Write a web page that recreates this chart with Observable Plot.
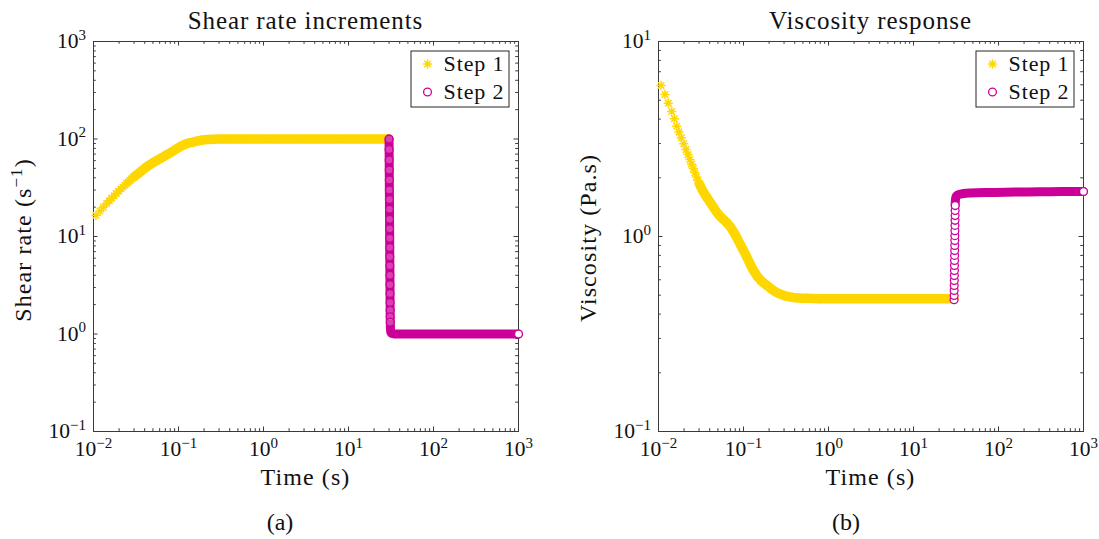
<!DOCTYPE html>
<html><head><meta charset="utf-8">
<script src="https://cdn.jsdelivr.net/npm/d3@7"></script>
<script src="https://cdn.jsdelivr.net/npm/@observablehq/plot@0.6"></script>
<style>
html,body{margin:0;padding:0;background:#fff;}
#fig{position:relative;width:1099px;height:539px;overflow:hidden;background:#fff;}
#fig > svg{position:absolute;top:0;}
</style></head><body><div id="fig"></div>
<script>
// ---------- data ----------
const step1Time = [0.0107, 0.01192, 0.01304, 0.01429, 0.01534, 0.01637, 0.01742, 0.01855, 0.01979, 0.02106,
  0.0222, 0.0234, 0.0245, 0.0257, 0.0268, 0.028, 0.0291, 0.0303,
  0.0326, 0.035, 0.0374, 0.04, 0.0421, 0.045, 0.048, 0.0515, 0.055, 0.0585,
  0.062, 0.066, 0.07, 0.074, 0.078, 0.082, 0.086, 0.093, 0.1, 0.107,
  0.114, 0.122, 0.131, 0.145, 0.16, 0.175, 0.19, 0.21, 0.23, 0.26,
  0.3, 0.34, 0.38, 0.42, 0.468,
  0.55, 0.65, 0.8, 1, 1.3, 1.7, 2.2, 3, 4, 5, 7, 9, 12, 15, 20, 25, 30];
const step1ShearRate = [16.5, 18.3, 20.0, 21.8, 23.3, 24.7, 26.1, 27.6, 29.2, 30.8,
  32.2, 33.6, 34.9, 36.3, 37.5, 38.8, 40.0, 41.2,
  43.2, 45.5, 47.7, 50.0, 51.7, 53.8, 55.8, 58.0, 60.0, 61.8,
  63.5, 65.5, 67.5, 69.5, 71.3, 73.2, 75.0, 78.3, 81.5, 84.3,
  86.7, 89.0, 91.0, 92.5, 94.5, 96.2, 97.6, 98.6, 99.1, 99.5,
  99.8, 100, 100, 100, 100,
  100, 100, 100, 100, 100, 100, 100, 100, 100, 100, 100, 100, 100, 100, 100, 100, 100];
const step1Viscosity = [5.95, 5.35, 4.83, 4.38, 4.02, 3.68, 3.43, 3.21, 2.99, 2.79,
  2.63, 2.48, 2.35, 2.23, 2.12, 2.02, 1.94, 1.86,
  1.74, 1.65, 1.58, 1.51, 1.46, 1.40, 1.34, 1.29, 1.25, 1.22,
  1.19, 1.155, 1.12, 1.08, 1.04, 1.00, 0.96, 0.90, 0.848, 0.80,
  0.755, 0.71, 0.67, 0.625, 0.595, 0.575, 0.56, 0.54, 0.525, 0.51,
  0.498, 0.492, 0.487, 0.485, 0.483,
  0.482, 0.481, 0.48, 0.48, 0.48, 0.48, 0.48, 0.48, 0.48, 0.48, 0.48, 0.48, 0.48, 0.48, 0.48, 0.48, 0.48];

const step2Time = [30.0, 30.05, 30.1, 30.15, 30.2, 30.25, 30.3, 30.35, 30.4, 30.45,
  30.5, 30.55, 30.6, 30.65, 30.7, 30.75, 30.8, 30.85, 30.9, 30.95,
  31.0, 31.1, 31.25, 31.5, 32, 33, 34.5, 37, 41, 46,
  55, 70, 90, 120, 160, 220, 300, 400, 550, 750, 1000];
const step2ShearRate = [100, 78, 61, 48, 38, 30, 24, 19, 15, 12,
  9.6, 7.7, 6.2, 5.0, 4.0, 3.2, 2.6, 2.1, 1.75, 1.5,
  1.32, 1.18, 1.09, 1.04, 1.02, 1.01, 1.0, 1.0, 1.0, 1.0,
  1.0, 1.0, 1.0, 1.0, 1.0, 1.0, 1.0, 1.0, 1.0, 1.0, 1.0];
const step2Viscosity = [0.474, 0.498, 0.529, 0.561, 0.595, 0.631, 0.669, 0.710, 0.753, 0.80,
  0.848, 0.90, 0.954, 1.01, 1.07, 1.14, 1.21, 1.28, 1.36, 1.44,
  1.49, 1.53, 1.56, 1.59, 1.61, 1.63, 1.645, 1.655, 1.665, 1.67,
  1.675, 1.68, 1.683, 1.686, 1.689, 1.692, 1.695, 1.697, 1.699, 1.70, 1.70];

const xTickValues = [1e-2, 1e-1, 1e0, 1e1, 1e2, 1e3];
const xTickLabels = ["10^\u22122", "10^\u22121", "10^0", "10^1", "10^2", "10^3"];
const shearTickValues = [1e-1, 1e0, 1e1, 1e2, 1e3];
const shearTickLabels = ["10^\u22121", "10^0", "10^1", "10^2", "10^3"];
const viscTickValues = [1e-1, 1e0, 1e1];
const viscTickLabels = ["10^\u22121", "10^0", "10^1"];
const titles = ["Shear rate increments", "Viscosity response"];
const xLabel = "Time (s)";
const captions = ["(a)", "(b)"];
const legendLabels = ["Step 1", "Step 2"];

// ---------- styling ----------
const W = 1099, H = 539;
const FONT = '"Liberation Serif", "Times New Roman", serif';
const YELLOW = "#FFD700", MAGENTA = "#CC0099", AXIS = "#3a3a3a", INK = "#111";
const MAJ = 4.5, MIN = 2.8;
const STAR_R = 4.6;
const NS = "http://www.w3.org/2000/svg";

const asterisk8 = {
  draw(ctx, size) {
    const r = Math.sqrt(size / Math.PI), d = r * Math.SQRT1_2;
    ctx.moveTo(-r, 0); ctx.lineTo(r, 0);
    ctx.moveTo(0, -r); ctx.lineTo(0, r);
    ctx.moveTo(-d, -d); ctx.lineTo(d, d);
    ctx.moveTo(-d, d); ctx.lineTo(d, -d);
  }
};

function minorTicks(lo, hi) {
  const out = [];
  for (let e = lo; e < hi; e++) for (let m = 2; m <= 9; m++) out.push(m * Math.pow(10, e));
  return out;
}

function superscriptTicks(svg) {
  svg.querySelectorAll('g[aria-label="x-axis tick label"] text, g[aria-label="y-axis tick label"] text').forEach(t => {
    const s = t.textContent;
    const parts = s.split("^");
    if (parts.length < 2) return;
    t.textContent = "";
    const a = document.createElementNS(NS, "tspan"); a.textContent = parts[0];
    const b = document.createElementNS(NS, "tspan"); b.textContent = parts[1];
    b.setAttribute("font-size", "15px"); b.setAttribute("dy", "-8.5");
    t.append(a, b);
  });
}

const fig = document.getElementById("fig");

function buildPanel(cfg) {
  const innerW = cfg.width - cfg.marginLeft - cfg.marginRight;
  const innerH = cfg.height - cfg.marginTop - cfg.marginBottom;
  const s1 = step1Time.map((t, i) => ({t, v: cfg.step1[i]}));
  const s2 = step2Time.map((t, i) => ({t, v: cfg.step2[i]}));
  const xMin = minorTicks(-2, 3);
  const yMin = minorTicks(cfg.yExp[0], cfg.yExp[1]);
  const ts = {stroke: AXIS, strokeWidth: 1};
  const svg = Plot.plot({
    width: cfg.width, height: cfg.height,
    marginLeft: cfg.marginLeft, marginRight: cfg.marginRight,
    marginTop: cfg.marginTop, marginBottom: cfg.marginBottom,
    x: {type: "log", domain: [1e-2, 1e3]},
    y: {type: "log", domain: cfg.yDomain},
    style: {fontFamily: FONT, fontSize: "21.5px", background: "transparent", overflow: "visible", color: INK},
    marks: [
      Plot.ruleX(xTickValues, {x: d => d, ...ts, insetBottom: innerH - MAJ}),
      Plot.ruleX(xTickValues, {x: d => d, ...ts, insetTop: innerH - MAJ}),
      Plot.ruleX(xMin, {x: d => d, ...ts, insetBottom: innerH - MIN}),
      Plot.ruleX(xMin, {x: d => d, ...ts, insetTop: innerH - MIN}),
      Plot.ruleY(cfg.yTicks, {y: d => d, ...ts, insetRight: innerW - MAJ}),
      Plot.ruleY(cfg.yTicks, {y: d => d, ...ts, insetLeft: innerW - MAJ}),
      Plot.ruleY(yMin, {y: d => d, ...ts, insetRight: innerW - MIN}),
      Plot.ruleY(yMin, {y: d => d, ...ts, insetLeft: innerW - MIN}),
      Plot.frame({stroke: AXIS, strokeWidth: 1}),
      Plot.axisX(xTickValues, {tickSize: 0, tickPadding: 9.4, label: null, fontSize: 21.5,
        tickFormat: d => xTickLabels[xTickValues.indexOf(d)]}),
      Plot.axisY(cfg.yTicks, {tickSize: 0, tickPadding: 7.5, label: null, fontSize: 21.5,
        tickFormat: d => cfg.yLabels[cfg.yTicks.indexOf(d)]}),
      Plot.line(s1.filter(d => d.t >= 0.03), {x: "t", y: "v", stroke: YELLOW, strokeWidth: 9.5,
        strokeLinecap: "round", strokeLinejoin: "round"}),
      Plot.dot(s1, {x: "t", y: "v", symbol: asterisk8, r: STAR_R, stroke: YELLOW, strokeWidth: 1.5, fill: "none"}),
      Plot.line(s2.filter(cfg.bandFilter), {x: "t", y: "v", stroke: MAGENTA, strokeWidth: 9,
        strokeLinecap: "round", strokeLinejoin: "round"}),
      Plot.dot(s2.filter(d => d.t <= cfg.circleMaxT), {x: "t", y: "v", r: 3.9, stroke: MAGENTA, strokeWidth: 1.3,
        fill: "white", fillOpacity: cfg.circleFillOpacity}),
      Plot.dot(s2.slice(-1), {x: "t", y: "v", r: 3.9, stroke: MAGENTA, strokeWidth: 1.3, fill: "white"})
    ]
  });
  superscriptTicks(svg);
  svg.style.position = "absolute";
  svg.style.left = cfg.left + "px";
  svg.style.top = "0px";
  svg.style.maxWidth = "none";
  fig.appendChild(svg);
}

buildPanel({
  left: 0, width: 549, height: 539, marginLeft: 93, marginRight: 31, marginTop: 41, marginBottom: 108,
  yDomain: [1e-1, 1e3], yTicks: shearTickValues, yLabels: shearTickLabels, yExp: [-1, 3],
  step1: step1ShearRate, step2: step2ShearRate,
  bandFilter: () => true, circleMaxT: 31.0, circleFillOpacity: 0.25
});
buildPanel({
  left: 549, width: 550, height: 539, marginLeft: 109, marginRight: 16, marginTop: 41, marginBottom: 108,
  yDomain: [1e-1, 1e1], yTicks: viscTickValues, yLabels: viscTickLabels, yExp: [-1, 1],
  step1: step1Viscosity, step2: step2Viscosity,
  bandFilter: d => d.t >= 30.95, circleMaxT: 30.95, circleFillOpacity: 1
});

// ---------- text overlay: titles, labels, captions, legends ----------
const ov = d3.select(fig).append("svg")
  .attr("width", W).attr("height", H)
  .style("position", "absolute").style("left", "0px").style("top", "0px")
  .attr("font-family", FONT).attr("fill", INK);

function txt(x, y, s, size, ls, anchor = "middle") {
  return ov.append("text").attr("x", x).attr("y", y).attr("text-anchor", anchor)
    .attr("font-size", size).attr("letter-spacing", ls).text(s);
}
txt(305.5, 29, titles[0], 25, 0.9);
txt(870.5, 29, titles[1], 25, 0.9);
txt(305.5, 485, xLabel, 24, 1.1);
txt(870.5, 485, xLabel, 24, 1.1);
txt(280, 530, captions[0], 24, 0);
txt(846, 530, captions[1], 24, 0);

// y labels (rotated)
const yl1 = ov.append("text").attr("transform", "translate(31,240) rotate(-90)")
  .attr("text-anchor", "middle").attr("font-size", 24).attr("letter-spacing", 1.1);
yl1.append("tspan").text("Shear rate (s");
yl1.append("tspan").attr("font-size", 17).attr("dy", -9).text("\u22121");
yl1.append("tspan").attr("font-size", 24).attr("dy", 9).text(")");
ov.append("text").attr("transform", "translate(596,238) rotate(-90)")
  .attr("text-anchor", "middle").attr("font-size", 24).attr("letter-spacing", 1.1)
  .text("Viscosity (Pa.s)");

// legends
const starPath = d3.symbol().type(asterisk8).size(STAR_R * STAR_R * Math.PI)();
[411, 976].forEach(bx => {
  const g = ov.append("g");
  g.append("rect").attr("x", bx).attr("y", 51).attr("width", 98).attr("height", 56)
    .attr("fill", "white").attr("stroke", "#262626").attr("stroke-width", 1);
  g.append("path").attr("d", starPath).attr("transform", `translate(${bx + 16.5},64)`)
    .attr("fill", "none").attr("stroke", YELLOW).attr("stroke-width", 1.5);
  g.append("circle").attr("cx", bx + 16.5).attr("cy", 92).attr("r", 3.9)
    .attr("fill", "white").attr("stroke", MAGENTA).attr("stroke-width", 1.3);
  legendLabels.forEach((l, i) => {
    g.append("text").attr("x", bx + 32.5).attr("y", 71 + i * 28).attr("font-size", 22)
      .attr("letter-spacing", 0.9).text(l);
  });
});
</script>
</body></html>
